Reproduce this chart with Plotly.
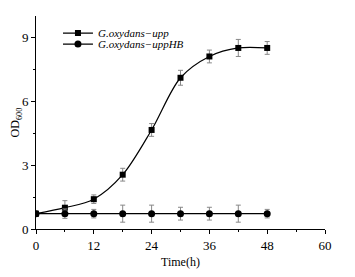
import plotly.graph_objects as go

time_h = [0, 6, 12, 18, 24, 30, 36, 42, 48]
od_upp = [0.72, 1.0, 1.4, 2.55, 4.65, 7.1, 8.1, 8.5, 8.5]
err_upp = [0.08, 0.33, 0.2, 0.3, 0.3, 0.35, 0.3, 0.4, 0.3]
od_uppHB = [0.72, 0.72, 0.72, 0.72, 0.72, 0.72, 0.72, 0.72, 0.72]
err_uppHB = [0.08, 0.22, 0.2, 0.4, 0.4, 0.3, 0.3, 0.4, 0.2]

x_ticks = [0, 12, 24, 36, 48, 60]
y_ticks = [0, 3, 6, 9]

font_serif = "Liberation Serif"

fig = go.Figure()
fig.add_trace(go.Scatter(
    x=time_h, y=od_upp, name="G.oxydans\u2212upp", mode="lines+markers",
    line=dict(color="black", width=1.2, shape="spline", smoothing=0.9),
    marker=dict(symbol="square", size=6, color="black"),
    error_y=dict(type="data", array=err_upp, color="#888888", thickness=1, width=2.5),
    legend="legend",
))
fig.add_trace(go.Scatter(
    x=time_h, y=od_uppHB, name="G.oxydans\u2212uppHB", mode="lines+markers",
    line=dict(color="black", width=1.2),
    marker=dict(symbol="circle", size=7, color="black"),
    error_y=dict(type="data", array=err_uppHB, color="#888888", thickness=1, width=2.5),
    legend="legend2",
))

legend_common = dict(
    font=dict(family=font_serif, size=11, color="black", style="italic"),
    bgcolor="rgba(0,0,0,0)", borderwidth=0, itemwidth=30,
    xanchor="left", yanchor="middle", tracegroupgap=0,
)
fig.update_layout(
    width=339, height=261,
    margin=dict(l=28, r=22, t=8, b=40),
    paper_bgcolor="white", plot_bgcolor="white",
    font=dict(family=font_serif, size=12, color="black"),
    showlegend=True,
    legend=dict(x=0.076, y=0.92, **legend_common),
    legend2=dict(x=0.076, y=0.868, **legend_common),
    xaxis=dict(
        range=[0, 60], tickvals=x_ticks, ticks="outside", ticklen=4, tickwidth=1,
        tickcolor="black", showline=True, linecolor="black", linewidth=1,
        showgrid=False, zeroline=False, automargin=False,
        minor=dict(dtick=6, tick0=0, ticks="outside", ticklen=2, tickcolor="black"),
        title=dict(text="Time(h)", font=dict(size=12), standoff=10),
        tickfont=dict(size=13),
    ),
    yaxis=dict(
        range=[0, 10], tickvals=y_ticks, ticks="outside", ticklen=4, tickwidth=1,
        tickcolor="black", showline=True, linecolor="black", linewidth=1,
        showgrid=False, zeroline=False, automargin=False,
        minor=dict(dtick=1.5, tick0=0, ticks="outside", ticklen=2, tickcolor="black"),
        title=dict(text="OD<sub>600</sub>", font=dict(size=12), standoff=10),
        tickfont=dict(size=13),
    ),
)

fig.write_html("out.html")
